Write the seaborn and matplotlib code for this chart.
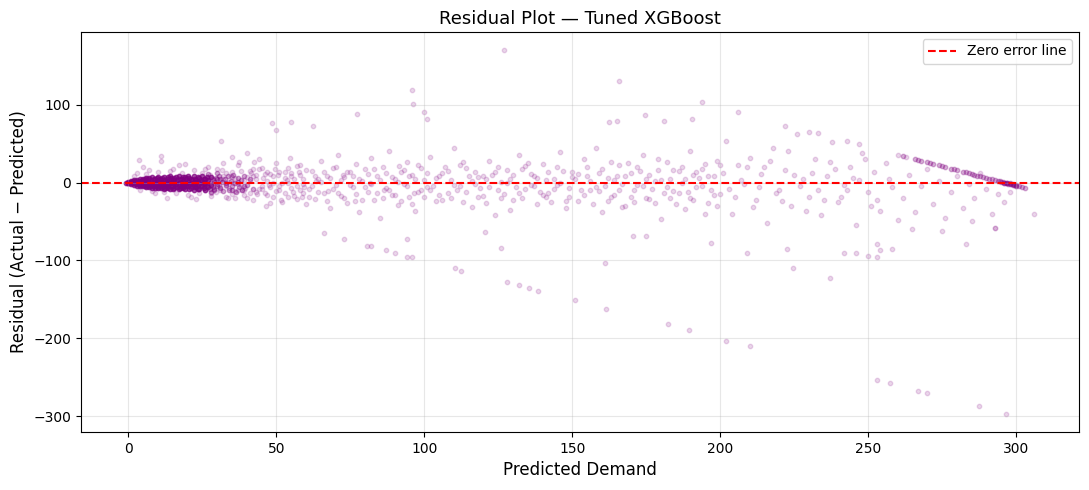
import pandas as pd
import seaborn as sns
import matplotlib.pyplot as plt

# (predicted, residual) pairs
core_points = [
    (-0.7, 0), (0, 0), (0, -1), (0, 1), (1, -2), (1, 0.5), (1, 2),
    (2, -3), (2, -1), (2, 1), (2, 3), (3, -4), (3, 0), (3, 3.5),
    (4, -4.5), (4, -1.5), (4, 1.5), (4, 4.5), (5, -5), (5, 0), (5, 5),
    (6, -5.5), (6, -2), (6, 2), (6, 6), (7, -6), (7, 0), (7, 5.5),
    (8, -6.5), (8, -3), (8, 1), (8, 6.5), (9, -7), (9, -1), (9, 4),
    (10, -7), (10, -3.5), (10, 0.5), (10, 7), (11, -7.5), (11, -2), (11, 3.5),
    (12, -8), (12, -4), (12, 0), (12, 7.5), (13, -6), (13, 2), (13, 5),
    (14, -8), (14, -1), (14, 8), (15, -5), (15, 3), (15, -8.5),
    (16, -2), (16, 1), (16, 6.5), (17, -8), (17, -4), (17, 8),
    (18, 0), (18, 4), (18, -6), (19, -8.5), (19, -2), (19, 7),
    (20, -5), (20, 2), (20, 8.5), (21, -7), (21, 0), (21, 5),
    (22, -9), (22, -3), (22, 8), (23, -6), (23, 3), (23, 1),
    (24, -8), (24, -1), (24, 6), (25, -4), (25, 2), (25, 8),
    (26, -9), (26, 0), (26, 5), (27, -6), (27, 3), (28, -3), (28, 7),
    (0.5, 0), (1.5, -1), (1.5, 1.5), (2.5, -2), (2.5, 2), (3.5, -3), (3.5, 1),
    (4.5, -3), (4.5, 3), (5.5, -4), (5.5, 1.5), (5.5, 4), (6.5, -4.5), (6.5, -0.5),
    (6.5, 4.5), (7.5, -5), (7.5, -2), (7.5, 3), (8.5, -5), (8.5, 0), (8.5, 5),
    (9.5, -5.5), (9.5, -2.5), (9.5, 2), (9.5, 6), (10.5, -5), (10.5, -1), (10.5, 4),
    (11.5, -6), (11.5, 1), (11.5, 6), (12.5, -6.5), (12.5, -2), (12.5, 3),
    (13.5, -7), (13.5, -3), (13.5, 0), (13.5, 6.5), (14.5, -5), (14.5, 3), (14.5, 5.5),
    (15.5, -7), (15.5, -1), (15.5, 6), (16.5, -5.5), (16.5, 3.5), (17.5, -6.5),
    (17.5, -1), (17.5, 5), (18.5, -7.5), (18.5, -3), (18.5, 2), (18.5, 7),
    (19.5, -5), (19.5, 0), (19.5, 4.5), (20.5, -8), (20.5, -2), (20.5, 6),
    (21.5, -4), (21.5, 3), (22.5, -6), (22.5, 0), (22.5, 5), (23.5, -8), (23.5, -3),
    (23.5, 7), (24.5, -5), (24.5, 3), (25.5, -7), (25.5, 0), (25.5, 5), (26.5, -4),
    (26.5, 7),
]

fringe_points = [
    (27.5, -8), (27.5, 0), (28.5, -6), (28.5, 4), (29, -8), (29, 1), (30, -5), (30, 4),
    (29, -10), (29.5, 6), (30, -2), (30.5, 9), (31, -7), (31.5, 1), (32, -11),
    (32.5, 5), (33, -3), (33.5, 8), (34, -9), (34.5, 2), (35, -5), (35.5, 10),
    (36, -1), (36.5, -12), (37, 6), (37.5, -6), (38, 3), (38.5, -10), (39, 8),
    (40, -3), (41, 5), (42, -8), (31, 4), (33, 0), (35, -10), (37, 1), (39, -5),
    (30, 12), (28, -12), (27, 11),
]

near_points = [
    (2, 9), (4, -9), (6, 11), (8, -11), (10, 13), (12, -12), (14, 15), (16, -14),
    (18, 12), (20, -16), (22, 16), (24, -13), (26, 18), (28, -17), (3, 12), (9, -13),
    (15, 17), (21, -18), (27, 20), (5, 20), (11, 28), (19, 24), (23, -21), (13, -20),
    (17, 22), (7, 16), (3.4, 29), (11, 34), (35, 33), (40, 38), (44, 30), (32, 25),
    (25, 12), (26, -9), (27, 6), (28, -14), (29, 3), (30, 18), (31, -6), (32, 9),
    (33, -18), (34, 1), (35, 14), (36, -11), (37, 22), (38, -3), (39, -16), (40, 7),
    (41, 15), (42, -22), (43, 4), (44, -8), (45, 19), (46, -13), (47, 2), (48, 11),
    (49, -19), (50, 25), (51, -5), (52, -25), (53, 13), (54, -1), (55, 8), (56, -17),
    (57, 21), (58, -10), (59, 5), (60, -28), (25.5, -4), (27.5, 10), (29.5, -12),
    (31.5, 16), (33.5, -20), (35.5, 0), (37.5, 26), (39.5, -7), (41.5, 12),
    (43.5, -15), (45.5, 6), (47.5, -3), (49.5, 17), (51.5, -23), (53.5, 3),
    (55.5, -12), (57.5, 14), (59.5, -6), (26.5, 2), (30.5, -3), (34.5, 8),
    (38.5, -9), (42.5, 27), (46.5, -30), (50.5, 10), (54.5, 31), (58.5, -18),
    (48.6, 77), (55, 78), (50, 67), (62.5, 73), (31.4, 54),
    (31, 2), (33, -4), (35, 7), (37, -9), (39, 3), (41, -14), (43, 10), (45, -8),
    (47, 13), (49, -1), (51, -9), (53, 6), (55, 12), (57, -5), (59, -13), (36, -20),
    (42, 18), (48, -26), (54, -18), (58, 22),
]

cloud_points = [
    (31, -10), (32, 4), (33, 12), (34, -7), (35, -15), (36, 6), (37, -2), (38, 15),
    (39, -9), (40, -20), (41, 2), (42, 9), (43, -12), (44, 17), (45, -4), (46, 11),
    (47, -16), (48, -6), (49, 8), (50, -11), (51, 14), (52, 0), (53, -14), (54, 19),
    (55, -7), (56, 4), (57, -21), (58, 10), (59, -2), (60, 16), (61, -18), (62, -4),
    (63, 9), (64, -12), (65, 1), (66, 13), (67, -24), (68, 6), (69, -8), (70, 20),
    (71, -13), (72, 3), (73, -20), (74, 14), (75, -3), (76, 9), (77, -15), (78, 5),
    (79, -22), (80, -6), (81, 11), (82, -2), (83, 18), (84, -14), (85, 3), (86, -20),
    (87, 12), (88, -9), (89, 7), (90, -16), (91, 1), (92, -24), (93, 16), (94, -5),
    (95, 9), (96, -27), (97, 4), (98, -12), (99, 19), (100, -18), (101, 12),
    (103, -4), (105, -16), (107, 20), (109, 3), (111, -9), (113, -25), (115, 8),
    (117, 14), (119, -7), (121, -26), (123, 10), (125, 20), (127, -15), (129, 5),
    (131, -6), (133, -20), (135, 25), (137, 9), (139, -12), (141, 3), (143, -25),
    (145, -3), (147, 15), (149, -18), (151, 5), (153, -10), (155, 20), (157, -28),
    (159, 12), (161, -5), (163, -18), (165, 8), (167, -32), (169, 25), (171, -10),
    (173, 15), (175, -20), (177, -8), (179, 30), (181, -14), (183, 5), (185, -28),
    (187, 20), (189, -12), (191, -22), (193, 6), (195, 24), (197, -10), (199, -30),
    (201, 12), (205, -18), (209, 20), (213, -6), (217, 28), (221, -24), (225, 10),
    (229, -36), (233, -10), (237, 26), (241, -18), (245, 6), (249, 30), (253, -22),
    (257, 5),
    (102, -10), (104, 6), (106, -22), (108, 15), (110, -3), (112, 22), (114, -12),
    (116, 2), (118, -18), (120, 9), (122, -6), (124, 14), (126, -20), (128, -1),
    (130, 10), (132, -13), (134, 21), (136, -3), (138, 6), (140, -16), (142, 13),
    (144, -8), (146, 0), (148, -24), (150, 7), (152, 11), (154, -16), (156, 2),
    (158, -6), (160, 18), (162, -24), (164, 3), (166, -10), (168, 9), (170, -18),
    (172, 20), (174, -4), (176, 10), (178, -26), (180, 3), (182, -6), (184, 16),
    (186, -14), (188, 4), (190, -20), (192, 14), (194, -4), (196, 8), (198, -16),
    (200, 22),
]

mid_points = [
    (61, -8), (62, 15), (63, -21), (64, 4), (65, 28), (66, -14), (67, 9), (68, -33),
    (69, 19), (70, -3), (71, 36), (72, -17), (73, 7), (74, -26), (75, 13), (76, -6),
    (77, 24), (78, -38), (79, 2), (80, 17), (81, -12), (82, 31), (83, -22), (84, 8),
    (85, -45), (86, 20), (87, -7), (88, 40), (89, -16), (90, 5), (91, -29), (92, 14),
    (93, -2), (94, 27), (95, -19), (96, 10), (97, -36), (98, 22), (99, -9), (100, 3),
    (102, 33), (104, -24), (106, 12), (108, -13), (110, 45), (112, -4), (114, 19),
    (116, -31), (118, 7), (120, -17), (122, 28), (124, -42), (126, 1), (128, 16),
    (130, -22), (132, 36), (134, -8), (136, 11), (138, -27), (140, 24), (142, -14),
    (144, 4), (146, 39), (148, -33), (150, 13), (63.5, 2), (67.5, -11), (72.5, 10),
    (76.5, -24), (81.5, 0), (86.5, -10), (91.5, 21), (96.5, -14), (101, -6), (105, 8),
    (109, -20), (113, 26), (117, -2), (121, 4), (125, -10), (129, -35), (133, 18),
    (137, -5), (141, -19), (145, 20), (149, -7),
]

far_points = [
    (152, -24), (154, 30), (156, -9), (158, 45), (160, -38), (162, 6), (164, -16),
    (166, 22), (168, -30), (170, 12), (172, -3), (174, 36), (176, -21), (178, 2),
    (180, -47), (182, 26), (184, -11), (186, 15), (188, -34), (190, 41), (192, -6),
    (194, 18), (196, -26), (198, 8), (200, -15), (202, 54), (204, -40), (206, 23),
    (208, -2), (210, 32), (212, -22), (214, 11), (216, -52), (218, 45), (220, -9),
    (222, 16), (224, -30), (226, 62), (228, 4), (230, -18), (232, 30), (234, -42),
    (236, 9), (238, 52), (240, -25), (242, -3), (244, 20), (246, -55), (248, 38),
    (250, -12), (252, 14), (254, -36), (256, 25), (258, -6), (260, -48),
    (155, 8), (159, -11), (163, 27), (167, -2), (171, -25), (175, 5), (179, 16),
    (183, -20), (187, -1), (191, 10), (195, -40), (199, 28), (203, -8), (207, 3),
    (211, -31), (215, 20), (219, -14), (223, 40), (227, -4), (231, 12), (235, -22),
    (239, 17), (243, -10), (247, 3), (251, -30),
    (262, -20), (264, 10), (266, -38), (268, -5), (270, 18), (272, -28), (274, 2),
    (276, -45), (278, -12), (280, 8), (282, -33), (284, -2), (286, -20), (288, 12),
    (290, -8), (292, -40), (293, -58), (294, -15), (296, -25), (298, -12), (300, -5),
    (306, -41), (265, -60), (275, -62), (285, -50),
    (162.5, 78), (165, 79), (174.7, 87), (181, 79), (190.5, 82), (206, 91),
    (222, 72), (230, 65), (233, 64), (243, 53), (247, 49), (260, 36), (263, 33),
]

streak_points = [
    (262, 34), (266, 30), (268, 28), (270, 26), (272, 24), (274, 22), (276, 20),
    (278, 18), (280, 16), (282, 14), (284, 12), (285, 11), (286, 10), (288, 8),
    (289, 7), (290, 6), (291, 5), (292, 4), (293, 3), (294, 2), (295, 1),
    (295.5, 0.5), (296, 0), (296.5, -0.5), (297, -1), (297.5, -1.5), (298, -2),
    (298.5, -2.5), (299, -3), (299.5, -3.5), (300, -4), (301, -5), (302, -6),
    (303, -7), (294.5, 1.5), (296, -1), (297, 0), (298, -1), (299, -2), (300, -3),
    (267, 29), (271, 25), (275, 21), (279, 17), (283, 13), (287, 9),
]

outlier_points = [
    (127, 170), (166, 130), (96, 119), (96.3, 101), (194, 103), (77.4, 88), (100, 91),
    (101, 81), (66, -65), (73, -73), (80.5, -81), (82, -82), (87, -87), (90, -90),
    (94, -73), (94, -95), (96, -96), (110.5, -110), (112.5, -113), (126, -84),
    (120.6, -64), (128, -128), (132, -132), (135.5, -136), (138.6, -139), (151, -151),
    (161, -103), (161.5, -162), (182.5, -182), (189.5, -190), (202, -203), (210, -210),
    (224.7, -110), (237, -123), (253, -253), (257.5, -258), (267, -268), (270, -270),
    (287.5, -287), (296.5, -297), (197, -78), (209, -90), (222.6, -85), (242, -90),
    (246, -91), (250, -94), (253, -95), (254, -87), (258, -85), (253, -79), (283, -79),
    (170.5, -69), (175, -69), (293, -58),
]

def to_df(points):
    return pd.DataFrame(points, columns=["Predicted", "Residual"])

core_df = to_df(core_points)
fringe_df = to_df(fringe_points)
spread_df = to_df(near_points + cloud_points + mid_points + far_points + outlier_points)
streak_df = to_df(streak_points)

fig = plt.figure(figsize=(10.89, 4.9), dpi=100)
ax = fig.add_axes([0.0744, 0.1184, 0.9164, 0.8163])

sns.scatterplot(ax=ax, data=spread_df, x="Predicted", y="Residual", color="purple",
                alpha=0.16, s=10, edgecolor="purple", linewidth=1, legend=False)
sns.scatterplot(ax=ax, data=streak_df, x="Predicted", y="Residual", color="purple",
                alpha=0.3, s=10, edgecolor="purple", linewidth=1, legend=False)
sns.scatterplot(ax=ax, data=fringe_df, x="Predicted", y="Residual", color="purple",
                alpha=0.35, s=10, edgecolor="purple", linewidth=1, legend=False)
sns.scatterplot(ax=ax, data=core_df, x="Predicted", y="Residual", color="purple",
                alpha=0.7, s=10, edgecolor="purple", linewidth=1, legend=False)

ax.axhline(0, color="red", linestyle="--", linewidth=1.5, label="Zero error line")

ax.set_title("Residual Plot — Tuned XGBoost", fontsize=13)
ax.set_xlabel("Predicted Demand", fontsize=12)
ax.set_ylabel("Residual (Actual − Predicted)", fontsize=12)
ax.grid(True, alpha=0.3)
ax.legend(loc="upper right")

fig.savefig("out.png", dpi=100)
